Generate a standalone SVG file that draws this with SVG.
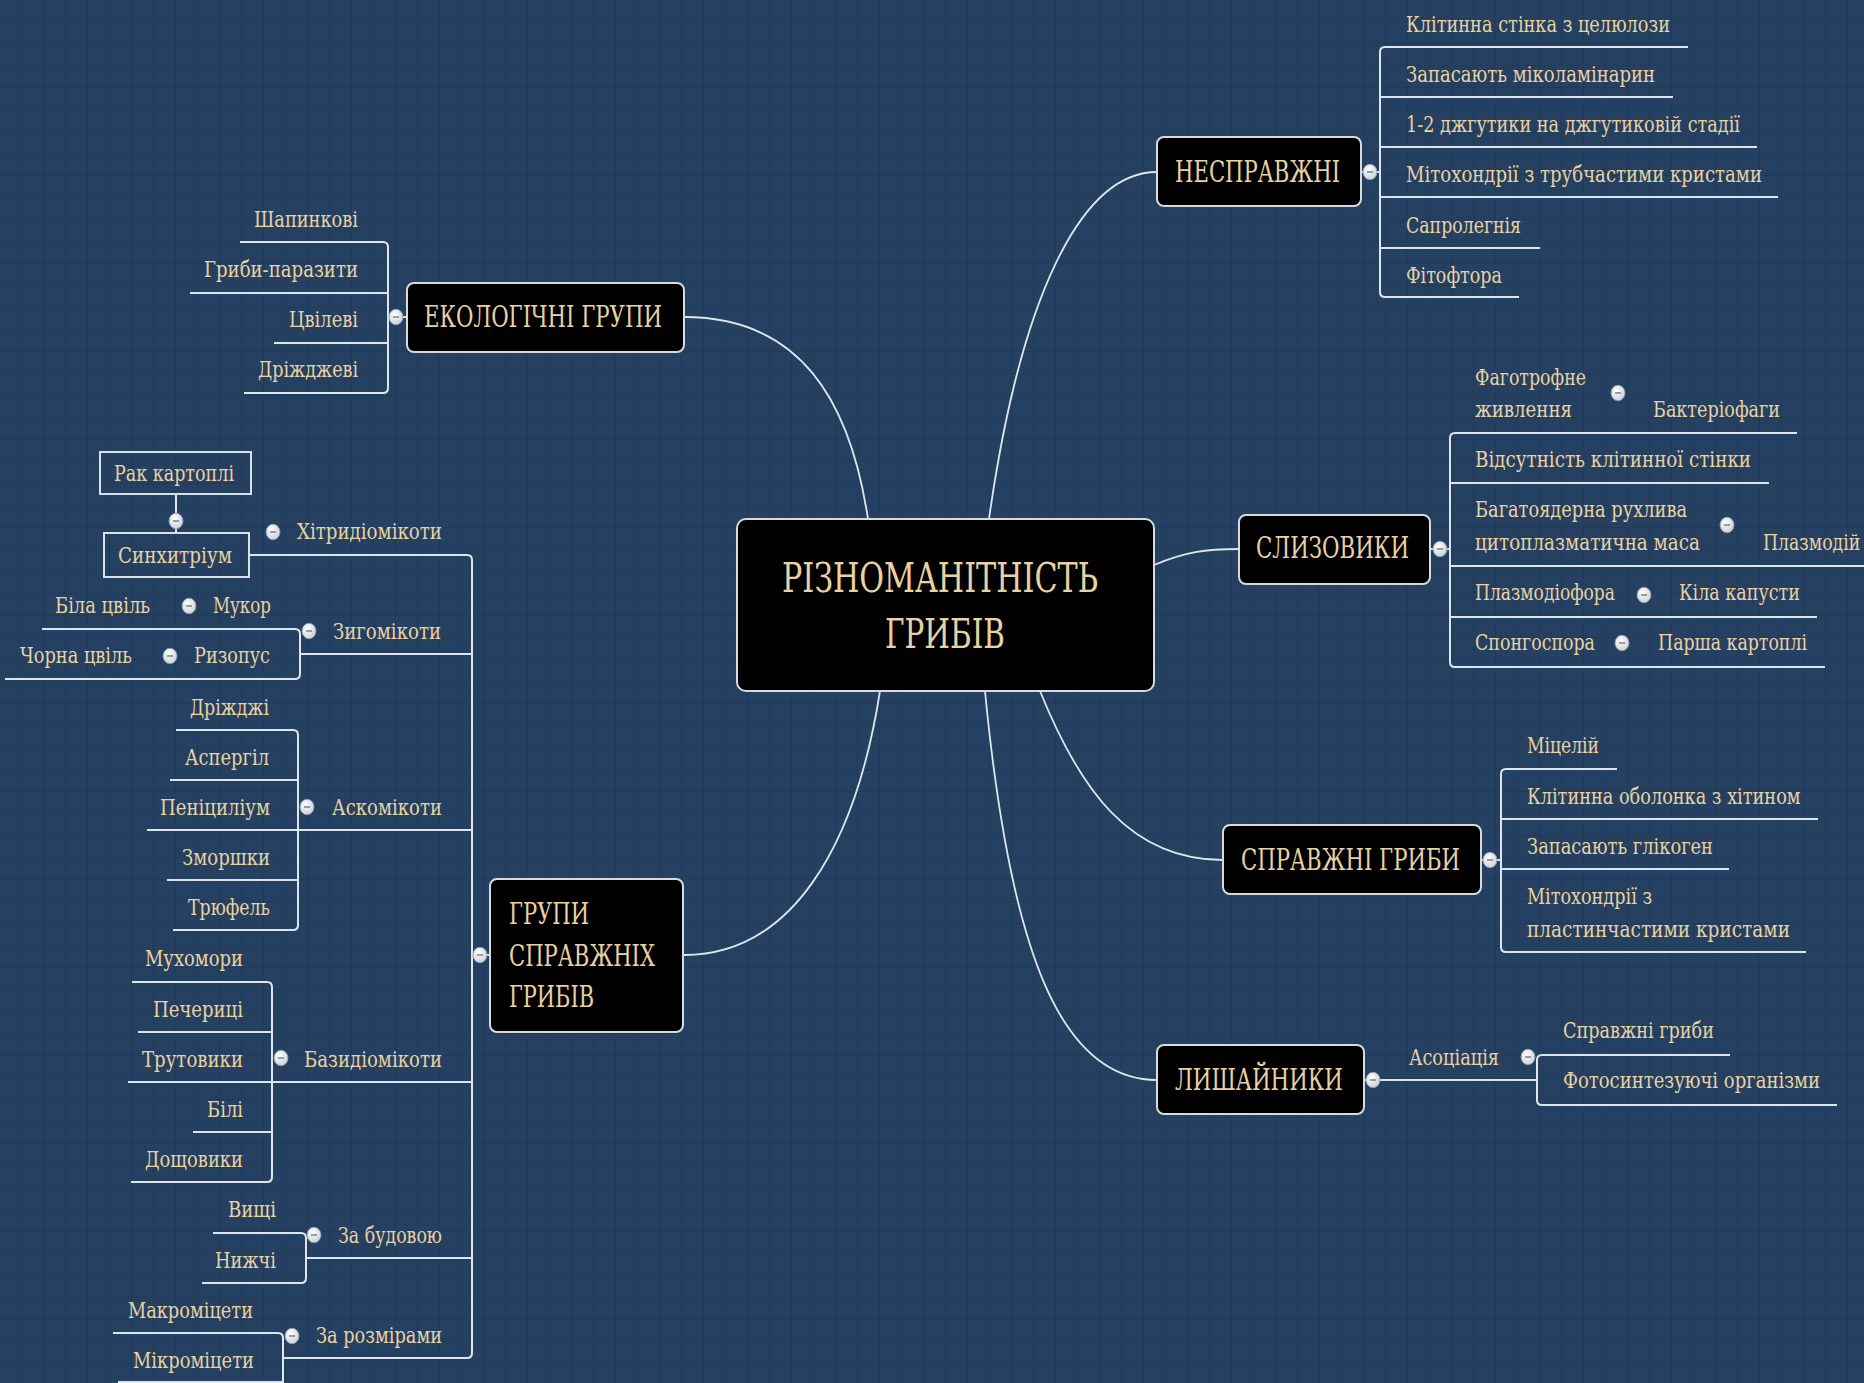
<svg xmlns="http://www.w3.org/2000/svg" xmlns:xlink="http://www.w3.org/1999/xlink" width="1864" height="1383" viewBox="0 0 1864 1383">
<defs>
<pattern id="grid" width="22" height="22" patternUnits="userSpaceOnUse">
<path d="M22 0V22M0 22H22" fill="none" stroke="#1b3352" stroke-width="1.4" opacity="0.55"/>
</pattern>
<radialGradient id="knobg" cx="40%" cy="35%" r="70%"><stop offset="0" stop-color="#ffffff"/><stop offset="1" stop-color="#c6cfd7"/></radialGradient>
<g id="kb"><ellipse rx="7" ry="7.8" fill="url(#knobg)" stroke="#8f9aa5" stroke-width="0.8"/><path d="M-3 0H3" stroke="#6f7880" stroke-width="1.4"/></g>
</defs>
<style>
.t{font-family:"DejaVu Serif","Liberation Serif",serif;fill:#e8d2a2;font-size:23px}
.h{font-size:29px}
.ti{font-size:41px}
.box{fill:#000;stroke:#d5dbe1;stroke-width:2}
.obox{fill:none;stroke:#d9e1e8;stroke-width:2}
.ln{fill:none;stroke:#dde6ee;stroke-width:2}
.cv{fill:none;stroke:#dde6ee;stroke-width:1.8}
</style>
<rect width="1864" height="1383" fill="#254060"/>
<rect width="1864" height="1383" fill="url(#grid)"/>

<g id="connectors">
<path class="cv" d="M868 519C850 400 800 317 684 317"/>
<path class="cv" d="M989 519C1020 300 1080 172 1157 172"/>
<path class="cv" d="M1154 565C1185 552 1205 549 1239 549"/>
<path class="cv" d="M880 691C855 850 790 955 684 955"/>
<path class="cv" d="M1040 691C1080 790 1130 860 1223 860"/>
<path class="cv" d="M985 691C1010 950 1060 1080 1157 1080"/>

<path class="ln" d="M1361 172H1380M1385 47Q1380 47 1380 52V292Q1380 297 1385 297M1385 47H1688M1380 97H1673M1380 147H1757M1380 197H1778M1380 248H1540M1385 297H1519"/>
<path class="ln" d="M1430 549H1450M1455 433Q1450 433 1450 438V662Q1450 667 1455 667M1455 433H1797M1450 483H1769M1450 566H1864M1450 617H1817M1455 667H1825"/>
<path class="ln" d="M1481 860H1501M1506 769Q1501 769 1501 774V947Q1501 952 1506 952M1506 769H1617M1501 819H1818M1501 869H1729M1506 952H1806"/>
<path class="ln" d="M1364 1080H1537M1542 1055Q1537 1055 1537 1060V1100Q1537 1105 1542 1105M1542 1055H1730M1542 1105H1837"/>
<path class="ln" d="M388 317H407M383 242Q388 242 388 247V388Q388 393 383 393M240 242H383M190 293H388M274 343H388M244 393H383"/>

<path class="ln" d="M472 955H490M467 555Q472 555 472 560V1353Q472 1358 467 1358M249 555H467"/>
<path class="ln" d="M176 494V533"/>
<path class="ln" d="M300 654H472M295 629Q300 629 300 634V674Q300 679 295 679M42 629H295M5 679H295"/>
<path class="ln" d="M147 830H472M293 730Q298 730 298 735V925Q298 930 293 930M176 730H293M170 780H298M167 880H298M173 930H293"/>
<path class="ln" d="M128 1082H472M267 982Q272 982 272 987V1177Q272 1182 267 1182M132 982H267M138 1032H272M193 1132H272M131 1182H267"/>
<path class="ln" d="M306 1258H472M301 1233Q306 1233 306 1238V1278Q306 1283 301 1283M213 1233H301M202 1283H301"/>
<path class="ln" d="M283 1358H467M278 1333Q283 1333 283 1338V1392M113 1333H278M118 1382H283"/>
</g>

<g id="n-center">
<rect class="box" x="737" y="519" width="417" height="172" rx="9"/>
<text class="t ti" x="782" y="592" textLength="316" lengthAdjust="spacingAndGlyphs">РІЗНОМАНІТНІСТЬ</text>
<text class="t ti" x="885" y="648" textLength="120" lengthAdjust="spacingAndGlyphs">ГРИБІВ</text>
</g>

<g id="n-nespravzhni">
<rect class="box" x="1157" y="137" width="204" height="69" rx="7"/>
<text class="t h" x="1175" y="182" textLength="165" lengthAdjust="spacingAndGlyphs">НЕСПРАВЖНІ</text>
<use xlink:href="#kb" x="1370" y="172"/>
</g>
<g id="n-ns1"><text class="t" x="1406" y="32" textLength="264" lengthAdjust="spacingAndGlyphs">Клітинна стінка з целюлози</text></g>
<g id="n-ns2"><text class="t" x="1406" y="82" textLength="249" lengthAdjust="spacingAndGlyphs">Запасають міколамінарин</text></g>
<g id="n-ns3"><text class="t" x="1406" y="132" textLength="334" lengthAdjust="spacingAndGlyphs">1-2 джгутики на джгутиковій стадії</text></g>
<g id="n-ns4"><text class="t" x="1406" y="182" textLength="356" lengthAdjust="spacingAndGlyphs">Мітохондрії з трубчастими кристами</text></g>
<g id="n-ns5"><text class="t" x="1406" y="233" textLength="115" lengthAdjust="spacingAndGlyphs">Сапролегнія</text></g>
<g id="n-ns6"><text class="t" x="1406" y="283" textLength="96" lengthAdjust="spacingAndGlyphs">Фітофтора</text></g>

<g id="n-slyzovyky">
<rect class="box" x="1239" y="515" width="191" height="69" rx="7"/>
<text class="t h" x="1256" y="558" textLength="153" lengthAdjust="spacingAndGlyphs">СЛИЗОВИКИ</text>
<use xlink:href="#kb" x="1440" y="549"/>
</g>
<g id="n-sl1">
<text class="t" x="1475" y="385" textLength="111" lengthAdjust="spacingAndGlyphs">Фаготрофне</text>
<text class="t" x="1475" y="417" textLength="97" lengthAdjust="spacingAndGlyphs">живлення</text>
<use xlink:href="#kb" x="1618" y="393"/>
</g>
<g id="n-sl1a"><text class="t" x="1653" y="417" textLength="127" lengthAdjust="spacingAndGlyphs">Бактеріофаги</text></g>
<g id="n-sl2"><text class="t" x="1475" y="467" textLength="276" lengthAdjust="spacingAndGlyphs">Відсутність клітинної стінки</text></g>
<g id="n-sl3">
<text class="t" x="1475" y="517" textLength="212" lengthAdjust="spacingAndGlyphs">Багатоядерна рухлива</text>
<text class="t" x="1475" y="550" textLength="225" lengthAdjust="spacingAndGlyphs">цитоплазматична маса</text>
<use xlink:href="#kb" x="1727" y="525"/>
</g>
<g id="n-sl3a"><text class="t" transform="translate(1763 550) scale(0.72 1)" x="0" y="0" textLength="135" lengthAdjust="spacingAndGlyphs">Плазмодій</text></g>
<g id="n-sl4">
<text class="t" x="1475" y="600" textLength="140" lengthAdjust="spacingAndGlyphs">Плазмодіофора</text>
<use xlink:href="#kb" x="1644" y="595"/>
</g>
<g id="n-sl4a"><text class="t" x="1679" y="600" textLength="121" lengthAdjust="spacingAndGlyphs">Кіла капусти</text></g>
<g id="n-sl5">
<text class="t" x="1475" y="650" textLength="120" lengthAdjust="spacingAndGlyphs">Спонгоспора</text>
<use xlink:href="#kb" x="1622" y="643"/>
</g>
<g id="n-sl5a"><text class="t" x="1658" y="650" textLength="149" lengthAdjust="spacingAndGlyphs">Парша картоплі</text></g>

<g id="n-spravzhni">
<rect class="box" x="1223" y="825" width="258" height="69" rx="7"/>
<text class="t h" x="1241" y="870" textLength="219" lengthAdjust="spacingAndGlyphs">СПРАВЖНІ ГРИБИ</text>
<use xlink:href="#kb" x="1490" y="860"/>
</g>
<g id="n-sp1"><text class="t" x="1527" y="753" textLength="72" lengthAdjust="spacingAndGlyphs">Міцелій</text></g>
<g id="n-sp2"><text class="t" transform="translate(1527 804) scale(0.72 1)" x="0" y="0" textLength="380" lengthAdjust="spacingAndGlyphs">Клітинна оболонка з хітином</text></g>
<g id="n-sp3"><text class="t" x="1527" y="854" textLength="186" lengthAdjust="spacingAndGlyphs">Запасають глікоген</text></g>
<g id="n-sp4">
<text class="t" x="1527" y="904" textLength="125" lengthAdjust="spacingAndGlyphs">Мітохондрії з</text>
<text class="t" x="1527" y="937" textLength="263" lengthAdjust="spacingAndGlyphs">пластинчастими кристами</text>
</g>

<g id="n-lyshainyky">
<rect class="box" x="1157" y="1045" width="207" height="69" rx="7"/>
<text class="t h" x="1175" y="1090" textLength="168" lengthAdjust="spacingAndGlyphs">ЛИШАЙНИКИ</text>
<use xlink:href="#kb" x="1373" y="1080"/>
</g>
<g id="n-ly1">
<text class="t" x="1409" y="1065" textLength="90" lengthAdjust="spacingAndGlyphs">Асоціація</text>
<use xlink:href="#kb" x="1528" y="1057"/>
</g>
<g id="n-ly1a"><text class="t" x="1563" y="1038" textLength="151" lengthAdjust="spacingAndGlyphs">Справжні гриби</text></g>
<g id="n-ly1b"><text class="t" transform="translate(1563 1088) scale(0.72 1)" x="0" y="0" textLength="357" lengthAdjust="spacingAndGlyphs">Фотосинтезуючі організми</text></g>

<g id="n-ekologichni">
<rect class="box" x="407" y="283" width="277" height="69" rx="7"/>
<text class="t h" x="424" y="327" textLength="238" lengthAdjust="spacingAndGlyphs">ЕКОЛОГІЧНІ ГРУПИ</text>
<use xlink:href="#kb" x="396" y="317"/>
</g>
<g id="n-ek1"><text class="t" x="254" y="227" textLength="104" lengthAdjust="spacingAndGlyphs">Шапинкові</text></g>
<g id="n-ek2"><text class="t" x="204" y="277" textLength="154" lengthAdjust="spacingAndGlyphs">Гриби-паразити</text></g>
<g id="n-ek3"><text class="t" x="289" y="327" textLength="69" lengthAdjust="spacingAndGlyphs">Цвілеві</text></g>
<g id="n-ek4"><text class="t" x="258" y="377" textLength="100" lengthAdjust="spacingAndGlyphs">Дріжджеві</text></g>

<g id="n-grupy">
<rect class="box" x="490" y="879" width="193" height="153" rx="7"/>
<text class="t h" x="509" y="924" textLength="80" lengthAdjust="spacingAndGlyphs">ГРУПИ</text>
<text class="t h" x="509" y="966" textLength="146" lengthAdjust="spacingAndGlyphs">СПРАВЖНІХ</text>
<text class="t h" x="509" y="1007" textLength="85" lengthAdjust="spacingAndGlyphs">ГРИБІВ</text>
<use xlink:href="#kb" x="480" y="955"/>
</g>

<g id="n-khytr">
<text class="t" x="297" y="539" textLength="145" lengthAdjust="spacingAndGlyphs">Хітридіомікоти</text>
<use xlink:href="#kb" x="273" y="532"/>
</g>
<g id="n-synkh">
<rect class="obox" x="104" y="533" width="145" height="44"/>
<text class="t" x="118" y="563" textLength="114" lengthAdjust="spacingAndGlyphs">Синхитріум</text>
<use xlink:href="#kb" x="176" y="521"/>
</g>
<g id="n-rak">
<rect class="obox" x="100" y="452" width="151" height="42"/>
<text class="t" x="114" y="481" textLength="120" lengthAdjust="spacingAndGlyphs">Рак картоплі</text>
</g>

<g id="n-zygo">
<text class="t" x="333" y="639" textLength="108" lengthAdjust="spacingAndGlyphs">Зигомікоти</text>
<use xlink:href="#kb" x="309" y="631"/>
</g>
<g id="n-mukor">
<text class="t" x="213" y="613" textLength="58" lengthAdjust="spacingAndGlyphs">Мукор</text>
<use xlink:href="#kb" x="189" y="606"/>
</g>
<g id="n-bila"><text class="t" x="55" y="613" textLength="95" lengthAdjust="spacingAndGlyphs">Біла цвіль</text></g>
<g id="n-ryzopus">
<text class="t" x="194" y="663" textLength="76" lengthAdjust="spacingAndGlyphs">Ризопус</text>
<use xlink:href="#kb" x="170" y="656"/>
</g>
<g id="n-chorna"><text class="t" x="20" y="663" textLength="112" lengthAdjust="spacingAndGlyphs">Чорна цвіль</text></g>

<g id="n-asko">
<text class="t" x="332" y="815" textLength="110" lengthAdjust="spacingAndGlyphs">Аскомікоти</text>
<use xlink:href="#kb" x="307" y="807"/>
</g>
<g id="n-as1"><text class="t" x="190" y="715" textLength="79" lengthAdjust="spacingAndGlyphs">Дріжджі</text></g>
<g id="n-as2"><text class="t" x="185" y="765" textLength="84" lengthAdjust="spacingAndGlyphs">Аспергіл</text></g>
<g id="n-as3"><text class="t" x="160" y="815" textLength="110" lengthAdjust="spacingAndGlyphs">Пеніциліум</text></g>
<g id="n-as4"><text class="t" x="182" y="865" textLength="88" lengthAdjust="spacingAndGlyphs">Зморшки</text></g>
<g id="n-as5"><text class="t" x="188" y="915" textLength="82" lengthAdjust="spacingAndGlyphs">Трюфель</text></g>

<g id="n-bazyd">
<text class="t" x="304" y="1067" textLength="138" lengthAdjust="spacingAndGlyphs">Базидіомікоти</text>
<use xlink:href="#kb" x="281" y="1058"/>
</g>
<g id="n-bz1"><text class="t" x="145" y="966" textLength="98" lengthAdjust="spacingAndGlyphs">Мухомори</text></g>
<g id="n-bz2"><text class="t" x="153" y="1017" textLength="90" lengthAdjust="spacingAndGlyphs">Печериці</text></g>
<g id="n-bz3"><text class="t" x="142" y="1067" textLength="101" lengthAdjust="spacingAndGlyphs">Трутовики</text></g>
<g id="n-bz4"><text class="t" x="207" y="1117" textLength="36" lengthAdjust="spacingAndGlyphs">Білі</text></g>
<g id="n-bz5"><text class="t" x="145" y="1167" textLength="98" lengthAdjust="spacingAndGlyphs">Дощовики</text></g>

<g id="n-budova">
<text class="t" x="338" y="1243" textLength="104" lengthAdjust="spacingAndGlyphs">За будовою</text>
<use xlink:href="#kb" x="314" y="1235"/>
</g>
<g id="n-bd1"><text class="t" x="228" y="1217" textLength="48" lengthAdjust="spacingAndGlyphs">Вищі</text></g>
<g id="n-bd2"><text class="t" x="215" y="1268" textLength="61" lengthAdjust="spacingAndGlyphs">Нижчі</text></g>

<g id="n-rozmir">
<text class="t" x="316" y="1343" textLength="126" lengthAdjust="spacingAndGlyphs">За розмірами</text>
<use xlink:href="#kb" x="292" y="1336"/>
</g>
<g id="n-rz1"><text class="t" x="128" y="1318" textLength="125" lengthAdjust="spacingAndGlyphs">Макроміцети</text></g>
<g id="n-rz2"><text class="t" x="133" y="1368" textLength="121" lengthAdjust="spacingAndGlyphs">Мікроміцети</text></g>
</svg>
